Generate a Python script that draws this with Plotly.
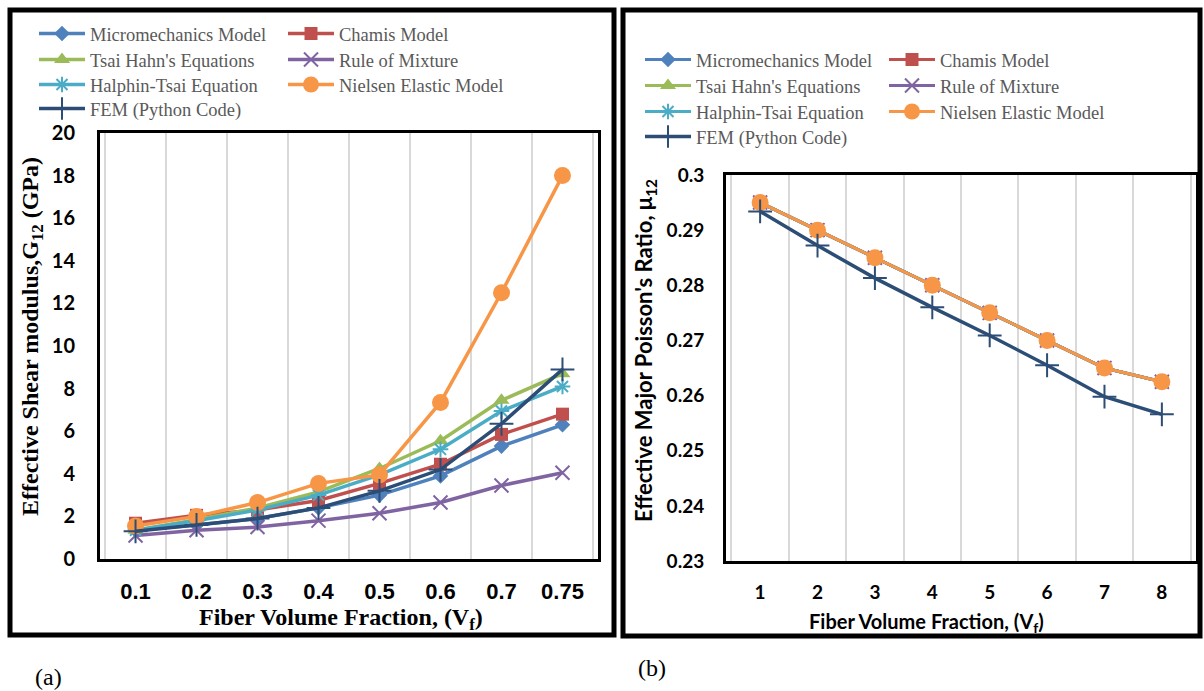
import plotly.graph_objects as go

W, H = 1204, 691

# ---------------- data ----------------
vf_a = ["0.1", "0.2", "0.3", "0.4", "0.5", "0.6", "0.7", "0.75"]
vf_b = ["1", "2", "3", "4", "5", "6", "7", "8"]

series_names = ["Micromechanics Model", "Chamis Model", "Tsai Hahn's Equations",
                "Rule of Mixture", "Halphin-Tsai Equation", "Nielsen Elastic Model",
                "FEM (Python Code)"]

g12_micromechanics = [1.35, 1.6, 1.9, 2.4, 3.0, 3.9, 5.3, 6.3]
g12_chamis = [1.68, 2.05, 2.3, 2.75, 3.55, 4.45, 5.85, 6.8]
g12_tsai_hahn = [1.35, 1.85, 2.4, 3.15, 4.25, 5.55, 7.45, 8.7]
g12_rule_mixture = [1.1, 1.35, 1.5, 1.8, 2.15, 2.65, 3.45, 4.05]
g12_halpin_tsai = [1.35, 1.8, 2.3, 3.0, 3.95, 5.15, 6.95, 8.1]
g12_nielsen = [1.55, 2.0, 2.65, 3.55, 3.95, 7.35, 12.5, 18.0]
g12_fem = [1.3, 1.6, 1.9, 2.4, 3.2, 4.2, 6.35, 8.9]

nu_micromechanics = [0.295, 0.29, 0.285, 0.28, 0.275, 0.27, 0.265, 0.2625]
nu_chamis = [0.295, 0.29, 0.285, 0.28, 0.275, 0.27, 0.265, 0.2625]
nu_tsai_hahn = [0.295, 0.29, 0.285, 0.28, 0.275, 0.27, 0.265, 0.2625]
nu_rule_mixture = [0.295, 0.29, 0.285, 0.28, 0.275, 0.27, 0.265, 0.2625]
nu_halpin_tsai = [0.295, 0.29, 0.285, 0.28, 0.275, 0.27, 0.265, 0.2625]
nu_nielsen = [0.295, 0.29, 0.285, 0.28, 0.275, 0.27, 0.265, 0.2625]
nu_fem = [0.2934, 0.2872, 0.2813, 0.276, 0.2709, 0.2655, 0.2598, 0.2566]

g12_ticks = [0, 2, 4, 6, 8, 10, 12, 14, 16, 18, 20]
nu_tickvals = [0.23, 0.24, 0.25, 0.26, 0.27, 0.28, 0.29, 0.30]
nu_ticktext = ["0.23", "0.24", "0.25", "0.26", "0.27", "0.28", "0.29", "0.3"]

# ---------------- styles ----------------
colors = ["#4F81BD", "#C0504D", "#9BBB59", "#8064A2", "#4BACC6", "#F79646", "#2C4D75"]
symbols = ["diamond", "square", "triangle-up", "x-thin", "asterisk", "circle", "cross-thin"]
msizes = [12, 13, 14, 14, 13, 17, 17]
mlines = [0, 0, 0, 2, 2, 0, 2]


def px(x):
    return x / W


def py(y):
    return 1 - y / H


fig = go.Figure()

data_a = [g12_micromechanics, g12_chamis, g12_tsai_hahn, g12_rule_mixture,
          g12_halpin_tsai, g12_nielsen, g12_fem]
data_b = [nu_micromechanics, nu_chamis, nu_tsai_hahn, nu_rule_mixture,
          nu_halpin_tsai, nu_nielsen, nu_fem]

# legend grid positions (row, col)
grid = [(0, 0), (0, 1), (1, 0), (1, 1), (2, 0), (2, 1), (3, 0)]
leg_rows_a = [34, 60, 85, 109]
leg_cols_a = [42, 291]
leg_rows_b = [60, 86, 112, 137]
leg_cols_b = [648, 892]

legends = {}
lid = 0
for panel, (data, xa, ya, rows, cols, lw_models) in enumerate([
        (data_a, "x", "y", leg_rows_a, leg_cols_a, 3.5),
        (data_b, "x2", "y2", leg_rows_b, leg_cols_b, 3.0)]):
    xs = vf_a if panel == 0 else vf_b
    for i, name in enumerate(series_names):
        lid += 1
        lname = "legend" if lid == 1 else f"legend{lid}"
        r, c = grid[i]
        legends[lname] = dict(
            x=px(cols[c] - 8), y=py(rows[r]), xanchor="left", yanchor="middle",
            bgcolor="rgba(0,0,0,0)", borderwidth=0,
            font=dict(family="Liberation Serif", size=18.5, color="#595959"),
            itemwidth=46, itemclick=False, itemdoubleclick=False,
        )
        lw = 3.5 if i == 6 else lw_models
        fig.add_trace(go.Scatter(
            x=xs, y=data[i], name=name, mode="lines+markers",
            xaxis=xa, yaxis=ya, legend=lname, showlegend=True,
            line=dict(color=colors[i], width=lw),
            marker=dict(symbol=symbols[i], size=msizes[i], color=colors[i],
                        line=dict(width=mlines[i], color=colors[i])),
        ))

frame = dict(showline=True, mirror=True, linecolor="black", linewidth=3, automargin=False)

fig.update_layout(
    width=W, height=H, margin=dict(l=0, r=0, t=0, b=0, pad=0, autoexpand=False),
    paper_bgcolor="white", plot_bgcolor="white",
    showlegend=True,
    xaxis=dict(domain=[px(100), px(598)], anchor="y", type="category",
               tickson="boundaries", ticks="", showgrid=True,
               gridcolor="#D9D9D9", gridwidth=1.5, zeroline=False,
               tickfont=dict(family="Liberation Sans", size=22, color="black", weight="bold"),
               ticklabelstandoff=11, **frame),
    yaxis=dict(domain=[py(559), py(133)], anchor="x", range=[0, 20],
               tickvals=g12_ticks, ticks="", showgrid=False, zeroline=False,
               tickfont=dict(family="Lato", size=20, color="black", weight="bold"),
               ticklabelstandoff=18, **frame),
    xaxis2=dict(domain=[px(726), px(1196)], anchor="y2", type="category",
                tickson="boundaries", ticks="", showgrid=True,
                gridcolor="#D9D9D9", gridwidth=1.5, zeroline=False,
                tickfont=dict(family="Lato", size=19, color="black", weight="bold"),
                ticklabelstandoff=12, **frame),
    yaxis2=dict(domain=[py(561), py(175)], anchor="x2", range=[0.23, 0.30],
                tickvals=nu_tickvals, ticktext=nu_ticktext, ticks="",
                showgrid=False, zeroline=False,
                tickfont=dict(family="Lato", size=19, color="black", weight="bold"),
                ticklabelstandoff=15, **frame),
    **legends,
)

annotations = [
    dict(text="Fiber Volume Fraction, (V<sub>f</sub>)", x=px(341), y=py(619),
         font=dict(family="Liberation Serif", size=24, color="black", weight="bold")),
    dict(text="Effective Shear modulus,G<sub>12</sub> (GPa)", x=px(32), y=py(337),
         textangle=-90,
         font=dict(family="Liberation Serif", size=24, color="black", weight="bold")),
    dict(text="Fiber Volume Fraction, (V<sub>f</sub>)", x=px(926), y=py(622),
         font=dict(family="Lato", size=20, color="black", weight="bold")),
    dict(text="Effective Major Poisson's Ratio, μ<sub>12</sub>", x=px(645), y=py(351),
         textangle=-90,
         font=dict(family="Lato", size=22, color="black", weight="bold")),
    dict(text="(a)", x=px(48), y=py(677),
         font=dict(family="Liberation Serif", size=24, color="black")),
    dict(text="(b)", x=px(652), y=py(668),
         font=dict(family="Liberation Serif", size=24, color="black")),
]
for a in annotations:
    a.update(xref="paper", yref="paper", showarrow=False, xanchor="center", yanchor="middle")
fig.update_layout(annotations=annotations)

fig.add_shape(type="rect", xref="paper", yref="paper",
              x0=px(10), x1=px(614), y0=py(635), y1=py(10),
              line=dict(color="black", width=5), fillcolor="rgba(0,0,0,0)")
fig.add_shape(type="rect", xref="paper", yref="paper",
              x0=px(623), x1=px(1200), y0=py(636), y1=py(10),
              line=dict(color="black", width=5), fillcolor="rgba(0,0,0,0)")

# remove the default page margin so the 1204x691 figure fills the window exactly
fig.write_html("out.html", config={"displayModeBar": False},
               post_script="document.body.style.margin='0px';")
